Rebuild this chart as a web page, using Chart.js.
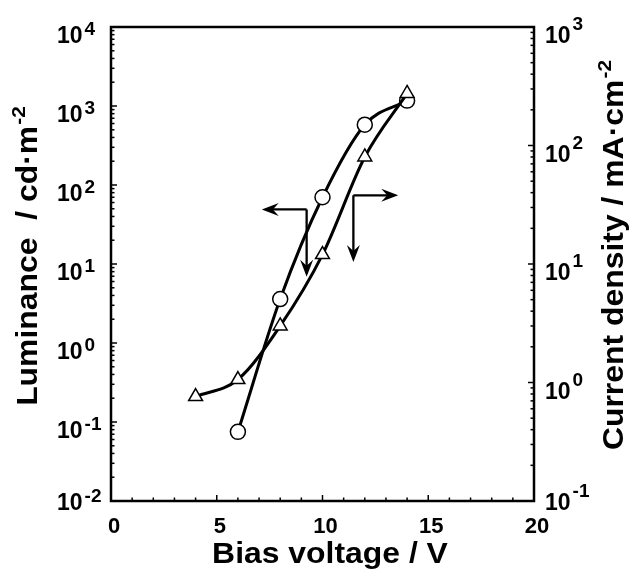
<!DOCTYPE html>
<html>
<head>
<meta charset="utf-8">
<script src="https://cdn.jsdelivr.net/npm/chart.js@4.4.1/dist/chart.umd.min.js"></script>
<style>
  body { margin: 0; background: #fff; }
  #wrap { width: 630px; height: 574px; }
</style>
</head>
<body>
<div id="wrap"><canvas id="lumChart" width="630" height="574"></canvas></div>
<script>
// luminance, circles, left axis
var lumVoltage = [6, 8, 10, 12, 14];
var luminance = [0.075, 3.6, 70, 580, 1170];

// current density, triangles, right axis
var curVoltage = [4, 6, 8, 10, 12, 14];
var currentDensity = [0.76, 1.06, 3.0, 12, 80, 275];

var xTicks = [0, 5, 10, 15, 20];
var lumExps = [-2, -1, 0, 1, 2, 3, 4];
var curExps = [-1, 0, 1, 2, 3];

// arrows: corner point, horizontal tip x, vertical tip y
var lumArrow = { x: 9.25, y: 49, toX: 7.13, toY: 6.9 };
var curArrow = { x: 11.46, y: 38, toX: 13.58, toY: 10.4 };

var FONT = '"Liberation Sans", Arial, sans-serif';
var STRETCH = 1.1; // the original lettering is a bit wider than Arial

function line(ctx, x1, y1, x2, y2) {
    ctx.beginPath();
    ctx.moveTo(x1, y1);
    ctx.lineTo(x2, y2);
    ctx.stroke();
}

function arrowHead(ctx, x, y, dx, dy) {
    // barbed head pointing along (dx, dy)
    var L = 17, W = 6.5, N = 11;
    ctx.beginPath();
    ctx.moveTo(x, y);
    ctx.lineTo(x - dx * L - dy * W, y - dy * L + dx * W);
    ctx.lineTo(x - dx * N, y - dy * N);
    ctx.lineTo(x - dx * L + dy * W, y - dy * L - dx * W);
    ctx.closePath();
    ctx.fill();
}

function drawArrow(ctx, sx, sy, arr) {
    var cx = sx.getPixelForValue(arr.x), cy = sy.getPixelForValue(arr.y);
    var hx = sx.getPixelForValue(arr.toX), vy = sy.getPixelForValue(arr.toY);
    var dir = hx < cx ? -1 : 1;
    line(ctx, cx, vy - 9, cx, cy);
    line(ctx, cx, cy, hx - dir * 9, cy);
    arrowHead(ctx, hx, cy, dir, 0);
    arrowHead(ctx, cx, vy, 0, 1);
}

// "10" with a raised exponent
function powLabel(ctx, x, y, exp, supDy) {
    ctx.textAlign = 'left';
    ctx.font = 'bold 23px ' + FONT;
    ctx.fillText('10', x, y);
    var w = ctx.measureText('10').width;
    ctx.font = 'bold 19px ' + FONT;
    ctx.fillText(String(exp), x + w + 2, y + supDy);
}

// text with a superscript, centred on (0,0) of the current transform
function supText(ctx, main, sup) {
    ctx.textAlign = 'left';
    ctx.font = 'bold 29px ' + FONT;
    var w1 = ctx.measureText(main).width;
    ctx.font = 'bold 19px ' + FONT;
    var w2 = ctx.measureText(sup).width;
    var start = -(w1 + w2 + 1) / 2;
    ctx.font = 'bold 29px ' + FONT;
    ctx.fillText(main, start, 0);
    ctx.font = 'bold 19px ' + FONT;
    ctx.fillText(sup, start + w1 + 1, -12);
}

function vTitle(ctx, x, y, main, sup) {
    ctx.save();
    ctx.translate(x, y);
    ctx.rotate(-Math.PI / 2);
    ctx.scale(STRETCH, 1);
    supText(ctx, main, sup);
    ctx.restore();
}

var framePlugin = {
    id: 'framePlugin',
    afterDatasetsDraw: function (chart) {
        var ctx = chart.ctx;
        ctx.save();
        ctx.strokeStyle = '#000';
        ctx.fillStyle = '#000';
        ctx.lineWidth = 2.3;
        drawArrow(ctx, chart.scales.x, chart.scales.yL, lumArrow);
        drawArrow(ctx, chart.scales.x, chart.scales.yR, curArrow);
        ctx.restore();
    },
    afterDraw: function (chart) {
        var ctx = chart.ctx, a = chart.chartArea;
        var sx = chart.scales.x, yl = chart.scales.yL, yr = chart.scales.yR;
        ctx.save();
        ctx.strokeStyle = '#000';
        ctx.fillStyle = '#000';

        ctx.lineWidth = 2.5;
        ctx.strokeRect(a.left, a.top, a.right - a.left, a.bottom - a.top);

        // x ticks, inward
        ctx.lineWidth = 1.5;
        for (var v = xTicks[0]; v <= xTicks[xTicks.length - 1]; v++) {
            var px = sx.getPixelForValue(v);
            line(ctx, px, a.bottom, px, a.bottom - (v % 5 === 0 ? 6 : 3.5));
        }
        // log ticks, inward
        function logTicks(scale, exps, x, dir) {
            for (var i = 0; i < exps.length; i++) {
                var top = i === exps.length - 1 ? 1 : 9;
                for (var m = 1; m <= top; m++) {
                    var py = scale.getPixelForValue(m * Math.pow(10, exps[i]));
                    line(ctx, x, py, x + dir * (m === 1 ? 6 : 3.5), py);
                }
            }
        }
        logTicks(yl, lumExps, a.left, 1);
        logTicks(yr, curExps, a.right, -1);

        // tick labels
        ctx.font = 'bold 22px ' + FONT;
        ctx.textAlign = 'center';
        ctx.textBaseline = 'alphabetic';
        xTicks.forEach(function (t) {
            ctx.fillText(String(t), sx.getPixelForValue(t) + 3, 533);
        });
        lumExps.forEach(function (e, i) {
            var py = yl.getPixelForValue(Math.pow(10, e)) + (i === 0 ? -7 : 0);
            powLabel(ctx, 57, py + 16, e, -8);
        });
        curExps.forEach(function (e, i) {
            var py = yr.getPixelForValue(Math.pow(10, e)) + (i === 0 ? -7 : 0);
            powLabel(ctx, 545, py + 16, e, -13);
        });

        // titles
        ctx.save();
        ctx.translate(330, 563);
        ctx.scale(STRETCH, 1);
        ctx.font = 'bold 29px ' + FONT;
        ctx.textAlign = 'center';
        ctx.fillText('Bias voltage / V', 0, 0);
        ctx.restore();
        vTitle(ctx, 37, 256, 'Luminance  / cd\u00b7m', '-2');
        vTitle(ctx, 623, 255, 'Current density / mA\u00b7cm', '-2');
        ctx.restore();
    }
};

new Chart(document.getElementById('lumChart').getContext('2d'), {
    type: 'scatter',
    data: {
        datasets: [{
            label: 'Current density',
            data: curVoltage.map(function (v, i) { return { x: v, y: currentDensity[i] }; }),
            yAxisID: 'yR',
            showLine: true,
            cubicInterpolationMode: 'monotone',
            borderColor: '#000',
            borderWidth: 3,
            pointStyle: 'triangle',
            pointRadius: 8,
            pointBackgroundColor: '#fff',
            pointBorderColor: '#000',
            pointBorderWidth: 1.5
        }, {
            label: 'Luminance',
            data: lumVoltage.map(function (v, i) { return { x: v, y: luminance[i] }; }),
            yAxisID: 'yL',
            showLine: true,
            cubicInterpolationMode: 'monotone',
            borderColor: '#000',
            borderWidth: 3,
            pointStyle: 'circle',
            pointRadius: 7.5,
            pointBackgroundColor: '#fff',
            pointBorderColor: '#000',
            pointBorderWidth: 1.5
        }]
    },
    options: {
        responsive: false,
        animation: false,
        layout: { padding: { left: 111, top: 27, right: 96, bottom: 73 } },
        plugins: { legend: { display: false }, tooltip: { enabled: false } },
        scales: {
            x: { type: 'linear', min: 0, max: 20, display: false },
            yL: { type: 'logarithmic', position: 'left', min: 0.01, max: 10000, display: false },
            yR: { type: 'logarithmic', position: 'right', min: 0.1, max: 1000, display: false }
        }
    },
    plugins: [framePlugin]
});
</script>
</body>
</html>
